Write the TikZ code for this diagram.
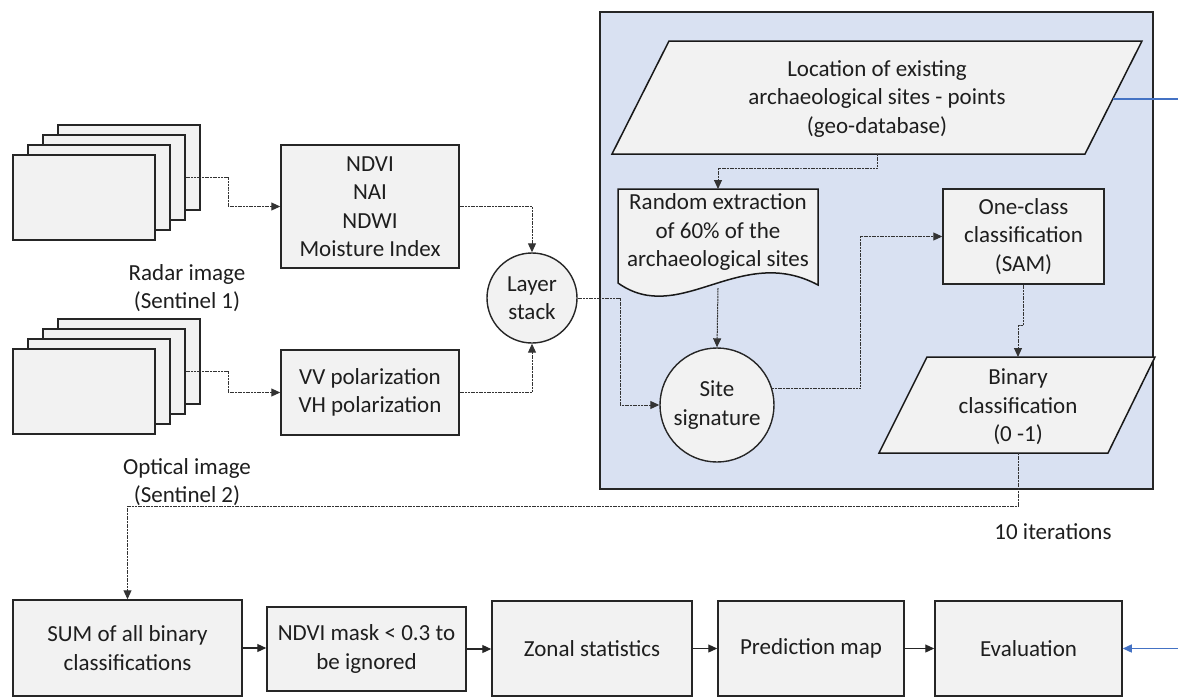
\documentclass[tikz,border=0pt]{standalone}
\usepackage{fontspec}
\setmainfont{Carlito}
\usetikzlibrary{arrows.meta}
\definecolor{panelblue}{RGB}{217,225,242}
\definecolor{boxgray}{RGB}{242,242,242}
\definecolor{txtcol}{RGB}{30,30,30}
\definecolor{linkblue}{RGB}{68,114,196}
\begin{document}
\begin{tikzpicture}[x=1pt,y=-1pt,
  font=\fontsize{23}{28.5}\selectfont,
  box/.style={draw=black!85, fill=boxgray, line width=1.5pt, inner sep=0pt, align=center, text=txtcol},
  stackrect/.style={draw=black!85, fill=boxgray, line width=1.4pt, inner sep=0pt, minimum width=142pt, minimum height=85pt},
  shp/.style={draw=black!90, fill=boxgray, line width=1.5pt},
  lbl/.style={align=center, inner sep=0pt, text=txtcol},
  roundnode/.style={circle, draw=black!85, fill=boxgray, line width=1.4pt, inner sep=0pt, align=center, text=txtcol},
  tip/.style={-{Triangle[length=9pt,width=8pt]}},
  conn/.style={draw=black!80, line width=1pt, dash pattern=on 2pt off 0.7pt, tip},
  flow/.style={draw=black!85, line width=1.1pt, tip},
  bluelink/.style={draw=linkblue, line width=1.4pt, tip}]
\useasboundingbox (0,0) rectangle (1178,697);
\fill[white] (0,0) rectangle (1178,697);

% panel
\draw[fill=panelblue, line width=1.6pt, draw=black!85] (600,12) rectangle (1153,489);

% image stacks
\node[stackrect] (t4) at (129,167.5) {};
\node[stackrect] (t3) at (114,177.5) {};
\node[stackrect] (t2) at (99,187.5) {};
\node[stackrect] (t1) at (84,197.5) {};
\node[stackrect] (b4) at (129,361.5) {};
\node[stackrect] (b3) at (114,371.5) {};
\node[stackrect] (b2) at (99,381.5) {};
\node[stackrect] (b1) at (84,391.5) {};
\node[lbl] (radar) at (187,288) {Radar image\\(Sentinel 1)};
\node[lbl] (optical) at (187,482) {Optical image\\(Sentinel 2)};

% index boxes
\node[box, minimum width=178pt, minimum height=123pt] (ndvi) at (370,206.5) {NDVI\\NAI\\NDWI\\Moisture Index};
\node[box, minimum width=178pt, minimum height=85pt] (vv) at (370,392.5) {VV polarization\\VH polarization};

% layer stack
\node[roundnode, minimum size=90pt] (ls) at (532,298) {Layer\\stack};

% location parallelogram
\draw[shp] (669,41) -- (1142,41) -- (1085,154) -- (612,154) -- cycle;
\node[lbl] (loc) at (877,99) {Location of existing\\archaeological sites - points\\(geo-database)};
\coordinate (locB) at (877,154);
\coordinate (locR) at (1112.7,99);

% random extraction document
\draw[shp] (618,189) -- (818,189) -- (818,285) .. controls (740,243) and (680,327) .. (618,283) -- cycle;
\node[lbl] (rnd) at (718,232) {Random extraction\\of 60\% of the\\archaeological sites};
\coordinate (rndT) at (718,189);
\coordinate (rndB) at (718,288);

% site signature
\node[roundnode, minimum size=114pt] (site) at (717,405) {Site\\signature};

% one-class
\node[box, minimum width=161pt, minimum height=95pt] (oc) at (1023.5,236.5) {One-class\\classification\\(SAM)};

% binary parallelogram
\draw[shp] (927,357) -- (1155,357) -- (1108,453) -- (879,453) -- cycle;
\node[lbl] (bin) at (1018,407) {Binary\\classification\\(0 -1)};
\coordinate (binT) at (1018,357);
\coordinate (binB) at (1018,453);

% bottom row
\node[box, minimum width=229pt, minimum height=96pt] (sum) at (127.5,648) {SUM of all binary\\classifications};
\node[box, minimum width=199pt, minimum height=84pt] (mask) at (366.5,649) {NDVI mask < 0.3 to\\be ignored};
\node[box, minimum width=200pt, minimum height=95pt] (zon) at (592,648.5) {Zonal statistics};
\node[box, minimum width=186pt, minimum height=95pt] (pred) at (811,648.5) {Prediction map};
\node[box, minimum width=187pt, minimum height=95pt] (ev) at (1028.5,648.5) {Evaluation};

\node[lbl] (iter) at (1053,532) {10 iterations};

% connectors
\draw[conn] (t3.east) -| (228,190) |- (ndvi.west);
\draw[conn] (b3.east) -| (228,380) |- (vv.west);
\draw[conn] (ndvi.east) -| (ls.north);
\draw[conn] (vv.east) -| (ls.south);
\draw[conn] (ls.east) -| (620,350) |- (site.west);
\draw[conn] (locB) |- (800,168) -| (rndT);
\draw[conn] (rndB) -- (site.north);
\draw[conn] (site.17) -| (860,300) |- (oc.west);
\draw[conn] (oc.south) |- (1020,325) -| (binT);
\draw[conn] (binB) |- (600,506) -| (sum.north);

\draw[flow] (sum.east) -- (sum.east -| mask.west);
\draw[flow] (mask.east) -- (mask.east -| zon.west);
\draw[flow] (zon.east) -- (pred.west);
\draw[flow] (pred.east) -- (ev.west);
\draw[bluelink] (locR) -| (1190,400) |- (ev.east);
\end{tikzpicture}
\end{document}
